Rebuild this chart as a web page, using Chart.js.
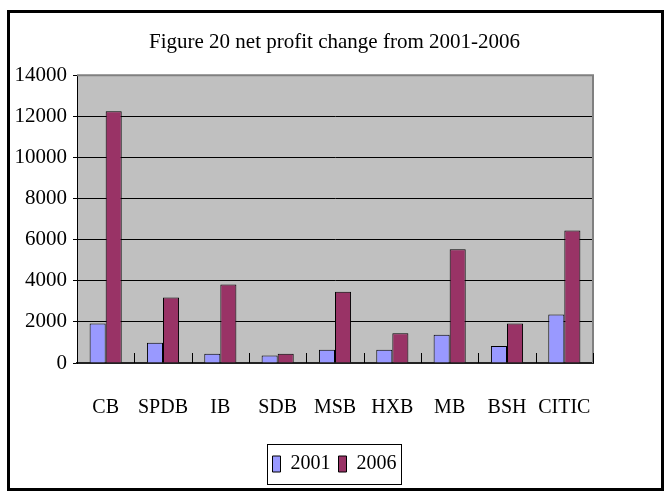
<!DOCTYPE html>
<html>
<head>
<meta charset="utf-8">
<script src="https://cdn.jsdelivr.net/npm/chart.js@4"></script>
<style>
  html, body { margin: 0; padding: 0; background: #fff; }
  #wrap { width: 669px; height: 493px; }
</style>
</head>
<body>
<div id="wrap"><canvas id="profitChart" width="669" height="493"></canvas></div>
<script>
// Data
const banks = ["CB", "SPDB", "IB", "SDB", "MSB", "HXB", "MB", "BSH", "CITIC"];
const profit2001 = [1920, 990, 450, 360, 650, 650, 1370, 830, 2360];
const profit2006 = [12250, 3190, 3820, 450, 3460, 1450, 5530, 1920, 6440];
const yTicks = [0, 2000, 4000, 6000, 8000, 10000, 12000, 14000];

const FONT = "'Liberation Serif', 'Times New Roman', serif";

// Grey plot background, frame, category ticks, legend box
const decorations = {
  id: "decorations",
  beforeDraw(chart) {
    const { ctx, chartArea: a } = chart;
    ctx.save();
    ctx.fillStyle = "#C0C0C0";
    ctx.fillRect(a.left, a.top, a.right - a.left, a.bottom - a.top);
    ctx.restore();
  },
  afterDraw(chart) {
    const { ctx, chartArea: a } = chart;
    const x = chart.scales.x;
    ctx.save();
    // top / right plot border
    ctx.strokeStyle = "#808080";
    ctx.lineWidth = 2;
    ctx.beginPath();
    ctx.moveTo(a.left, a.top);
    ctx.lineTo(a.right, a.top);
    ctx.lineTo(a.right, a.bottom);
    ctx.stroke();
    // small ticks between categories, pointing up
    ctx.strokeStyle = "#000";
    ctx.lineWidth = 1;
    for (let i = 1; i <= banks.length; i++) {
      const px = Math.round(x.getPixelForValue(i - 0.5)) + 0.5;
      ctx.beginPath();
      ctx.moveTo(px, a.bottom);
      ctx.lineTo(px, a.bottom - 10);
      ctx.stroke();
    }
    // legend frame
    const boxes = chart.legend.legendHitBoxes;
    if (boxes && boxes.length) {
      let l = Infinity, r = -Infinity, t = Infinity, b = -Infinity;
      boxes.forEach((h) => {
        l = Math.min(l, h.left); r = Math.max(r, h.left + h.width);
        t = Math.min(t, h.top); b = Math.max(b, h.top + h.height);
      });
      ctx.strokeStyle = "#000";
      ctx.lineWidth = 1;
      ctx.strokeRect(Math.round(l - 6) + 0.5, Math.round(t - 10) + 0.5, Math.round(r - l + 10), Math.round(b - t + 20));
    }
    // outer frame
    ctx.lineWidth = 3;
    ctx.strokeRect(8.5, 11.5, 654, 478);
    ctx.restore();
  },
};

const ctx = document.getElementById("profitChart").getContext("2d");
new Chart(ctx, {
  type: "bar",
  data: {
    labels: banks,
    datasets: [
      {
        label: "2001",
        data: profit2001,
        backgroundColor: "#9999FF",
        borderColor: "#000",
        borderWidth: 1,
        barPercentage: 1,
        categoryPercentage: 0.56,
      },
      {
        label: "2006",
        data: profit2006,
        backgroundColor: "#993366",
        borderColor: "#000",
        borderWidth: 1,
        barPercentage: 1,
        categoryPercentage: 0.56,
      },
    ],
  },
  options: {
    responsive: false,
    animation: false,
    layout: { padding: { left: 10, right: 10, top: 8, bottom: 9 } },
    plugins: {
      title: {
        display: true,
        text: "Figure 20 net profit change from 2001-2006",
        color: "#000",
        font: { family: FONT, size: 21, weight: "normal" },
        padding: { top: 22, bottom: 20 },
      },
      legend: {
        position: "bottom",
        labels: {
          color: "#000",
          font: { family: FONT, size: 20 },
          boxWidth: 8,
          boxHeight: 16,
          padding: 8,
        },
      },
      tooltip: { enabled: false },
    },
    scales: {
      x: {
        grid: { display: false },
        border: { display: true, color: "#222", width: 2 },
        ticks: {
          color: "#000",
          font: { family: FONT, size: 20 },
          padding: 25,
          maxRotation: 0,
          autoSkip: false,
        },
        afterFit(axis) { axis.height = 83; },
      },
      y: {
        min: 0,
        max: 14000,
        afterBuildTicks(axis) { axis.ticks = yTicks.map((v) => ({ value: v })); },
        grid: { color: "#000", lineWidth: 1, tickLength: 4 },
        border: { display: true, color: "#000", width: 1 },
        ticks: {
          color: "#000",
          font: { family: FONT, size: 21 },
          padding: 6,
          callback: (v) => String(v),
        },
        afterFit(axis) { axis.width = 67; },
      },
      // empty right axis to keep the plot clear of the right side
      yRight: {
        position: "right",
        grid: { display: false },
        border: { display: false },
        ticks: { display: false },
        afterFit(axis) { axis.width = 66; },
      },
    },
  },
  plugins: [decorations],
});
</script>
</body>
</html>
